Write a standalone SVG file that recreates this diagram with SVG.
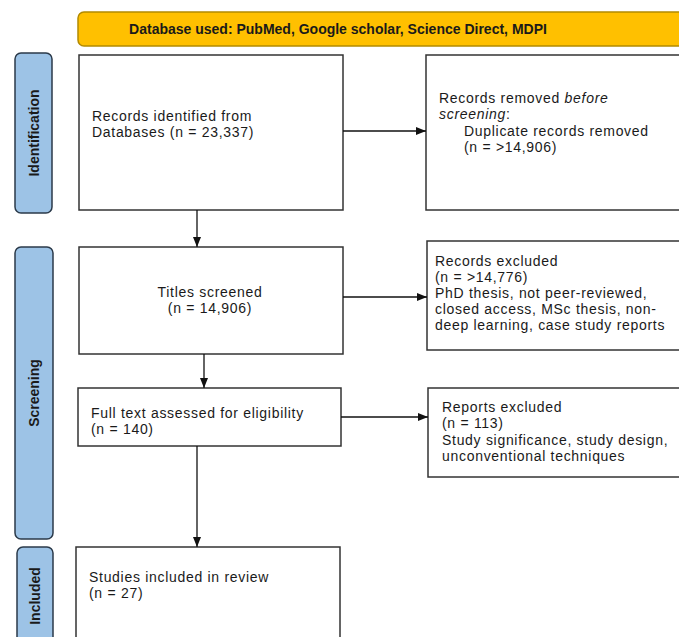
<svg xmlns="http://www.w3.org/2000/svg" width="679" height="637" viewBox="0 0 679 637">
<style>
.box{fill:#fff;stroke:#333;stroke-width:1.5}
.side{fill:#9DC3E6;stroke:#2B3A4A;stroke-width:1.5}
.t{font-family:"Liberation Sans",Arial,sans-serif;font-size:14px;letter-spacing:0.7px;fill:#1a1a1a}
.b{font-family:"Liberation Sans",Arial,sans-serif;font-size:14px;font-weight:bold;fill:#1a1a1a}
.c{stroke:#111;stroke-width:1.3;fill:none;marker-end:url(#ah)}
</style>
<defs>
<marker id="ah" viewBox="0 0 10 10" refX="10" refY="5" markerWidth="10" markerHeight="10" markerUnits="userSpaceOnUse" orient="auto">
<path d="M0,1 L10,5 L0,9 Z" fill="#111"/>
</marker>
</defs>
<rect width="679" height="637" fill="#fff"/>
<g id="banner">
<rect x="78" y="12" width="640" height="34" rx="6" fill="#FFC000" stroke="#B38A00" stroke-width="1.5"/>
<text class="b" x="338" y="34" text-anchor="middle">Database used: PubMed, Google scholar, Science Direct, MDPI</text>
</g>
<g id="label-identification">
<rect class="side" x="15" y="53" width="37" height="160" rx="6"/>
<text class="b" transform="translate(39,133) rotate(-90)" text-anchor="middle">Identification</text>
</g>
<g id="label-screening">
<rect class="side" x="15" y="247" width="38" height="292" rx="6"/>
<text class="b" transform="translate(39,393) rotate(-90)" text-anchor="middle">Screening</text>
</g>
<g id="label-included">
<rect class="side" x="17" y="547" width="36" height="100" rx="6"/>
<text class="b" transform="translate(40,596) rotate(-90)" text-anchor="middle">Included</text>
</g>
<g id="records-identified">
<rect class="box" x="79" y="55" width="264" height="155"/>
<text class="t" x="92" y="121">Records identified from</text>
<text class="t" x="92" y="137">Databases (n = 23,337)</text>
</g>
<g id="records-removed">
<rect class="box" x="426" y="55" width="270" height="155"/>
<text class="t" x="439" y="103">Records removed <tspan font-style="italic">before</tspan></text>
<text class="t" x="439" y="119"><tspan font-style="italic">screening</tspan>:</text>
<text class="t" x="464" y="136">Duplicate records removed</text>
<text class="t" x="464" y="152">(n = &gt;14,906)</text>
</g>
<g id="titles-screened">
<rect class="box" x="79" y="247" width="264" height="107"/>
<text class="t" x="210" y="297" text-anchor="middle">Titles screened</text>
<text class="t" x="210" y="313" text-anchor="middle">(n = 14,906)</text>
</g>
<g id="records-excluded">
<rect class="box" x="427" y="241" width="270" height="109"/>
<text class="t" x="435" y="266">Records excluded</text>
<text class="t" x="435" y="282">(n = &gt;14,776)</text>
<text class="t" x="435" y="298">PhD thesis, not peer-reviewed,</text>
<text class="t" x="435" y="314">closed access, MSc thesis, non-</text>
<text class="t" x="435" y="330">deep learning, case study reports</text>
</g>
<g id="full-text">
<rect class="box" x="78" y="388" width="263" height="58"/>
<text class="t" x="91" y="418">Full text assessed for eligibility</text>
<text class="t" x="91" y="434">(n = 140)</text>
</g>
<g id="reports-excluded">
<rect class="box" x="428" y="388" width="270" height="89"/>
<text class="t" x="442" y="412">Reports excluded</text>
<text class="t" x="442" y="428">(n = 113)</text>
<text class="t" x="442" y="445">Study significance, study design,</text>
<text class="t" x="442" y="461">unconventional techniques</text>
</g>
<g id="studies-included">
<rect class="box" x="76" y="547" width="264" height="100"/>
<text class="t" x="89" y="582">Studies included in review</text>
<text class="t" x="89" y="598">(n = 27)</text>
</g>
<g id="connectors">
<line class="c" x1="343" y1="131" x2="426" y2="131"/>
<line class="c" x1="197" y1="210" x2="197" y2="247"/>
<line class="c" x1="343" y1="297" x2="427" y2="297"/>
<line class="c" x1="204" y1="354" x2="204" y2="388"/>
<line class="c" x1="341" y1="417" x2="428" y2="417"/>
<line class="c" x1="197" y1="446" x2="197" y2="547"/>
</g>
</svg>
